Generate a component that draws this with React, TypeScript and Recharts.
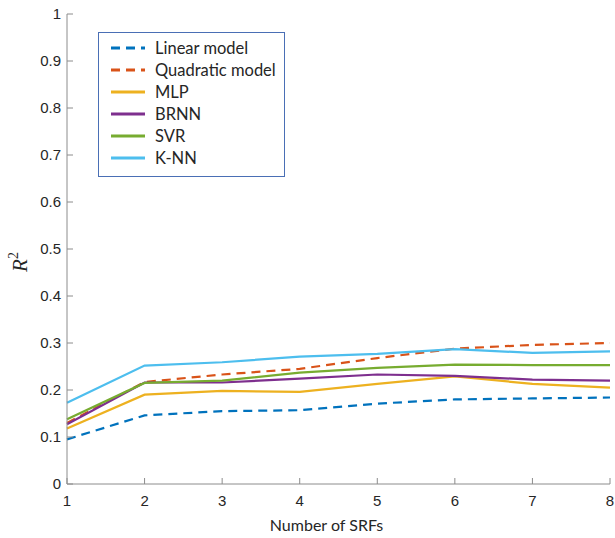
import React from 'react';
import { LineChart, Line, XAxis, YAxis, Legend } from 'recharts';

const srfs = [1, 2, 3, 4, 5, 6, 7, 8];
const linearModel = [0.095, 0.146, 0.155, 0.157, 0.171, 0.18, 0.182, 0.184];
const quadraticModel = [0.13, 0.217, 0.233, 0.245, 0.268, 0.288, 0.296, 0.3];
const mlp = [0.118, 0.19, 0.198, 0.196, 0.213, 0.229, 0.213, 0.205];
const brnn = [0.127, 0.216, 0.216, 0.224, 0.233, 0.23, 0.222, 0.22];
const svr = [0.138, 0.215, 0.22, 0.237, 0.247, 0.254, 0.253, 0.253];
const knn = [0.173, 0.252, 0.259, 0.271, 0.277, 0.287, 0.279, 0.282];

const xTicks = [1, 2, 3, 4, 5, 6, 7, 8];
const yTicks = [0, 0.1, 0.2, 0.3, 0.4, 0.5, 0.6, 0.7, 0.8, 0.9, 1];

const SERIES = [
  { key: 'linear', name: 'Linear model', color: '#0072BD', dashed: true },
  { key: 'quadratic', name: 'Quadratic model', color: '#D95319', dashed: true },
  { key: 'mlp', name: 'MLP', color: '#EDB120', dashed: false },
  { key: 'brnn', name: 'BRNN', color: '#7E2F8E', dashed: false },
  { key: 'svr', name: 'SVR', color: '#77AC30', dashed: false },
  { key: 'knn', name: 'K-NN', color: '#4DBEEE', dashed: false },
];

const data = srfs.map((n, i) => ({
  n,
  linear: linearModel[i],
  quadratic: quadraticModel[i],
  mlp: mlp[i],
  brnn: brnn[i],
  svr: svr[i],
  knn: knn[i],
}));

const AXIS = '#8c8c8c';
const TEXT = '#262626';
const TICK = 6;
const MARGIN = 4;

// inward ticks, MATLAB style
const BottomTick = (props: any) => {
  const { x, y, payload } = props;
  const ay = y - MARGIN;
  return (
    <g>
      <line x1={x} x2={x} y1={ay} y2={ay - TICK} stroke={AXIS} />
      <text x={x} y={ay + 9} dy="0.85em" textAnchor="middle" fill={TEXT} fontSize={15}>
        {payload.value}
      </text>
    </g>
  );
};
const TopTick = (props: any) => {
  const { x, y } = props;
  const ay = y + MARGIN;
  return <line x1={x} x2={x} y1={ay} y2={ay + TICK} stroke={AXIS} />;
};
const LeftTick = (props: any) => {
  const { x, y, payload } = props;
  const ax = x + MARGIN;
  return (
    <g>
      <line x1={ax} x2={ax + TICK} y1={y} y2={y} stroke={AXIS} />
      <text x={ax - 6} y={y} dy="0.35em" textAnchor="end" fill={TEXT} fontSize={15}>
        {payload.value}
      </text>
    </g>
  );
};
const RightTick = (props: any) => {
  const { x, y } = props;
  const ax = x - MARGIN;
  return <line x1={ax} x2={ax - TICK} y1={y} y2={y} stroke={AXIS} />;
};

const XTitle = (props: any) => {
  const { viewBox } = props;
  const cx = viewBox.x + viewBox.width / 2 - 12;
  return (
    <text x={cx} y={531} textAnchor="middle" fill={TEXT} fontSize={16} fontFamily="Lato, sans-serif">
      Number of SRFs
    </text>
  );
};

const LegendBox = () => (
  <div
    style={{
      border: '1px solid #4a6fb5',
      background: '#fff',
      width: 185,
      padding: '4px 0 7px 0',
      fontFamily: 'Lato, sans-serif',
      fontSize: 16.5,
      color: TEXT,
    }}
  >
    {SERIES.map(s => (
      <div key={s.key} style={{ display: 'flex', alignItems: 'center', height: 22 }}>
        <svg width={56} height={10}>
          <line
            x1={12}
            x2={46}
            y1={5}
            y2={5}
            stroke={s.color}
            strokeWidth={3}
            strokeDasharray={s.dashed ? '9 6' : undefined}
          />
        </svg>
        <span>{s.name}</span>
      </div>
    ))}
  </div>
);

export default function App() {
  return (
    <div style={{ position: 'absolute', left: 0, top: 0, width: 615, height: 538, background: '#fff', fontFamily: '"Liberation Sans", Arial, sans-serif' }}>
      <LineChart width={615} height={538} data={data} margin={{ top: 14, right: 5, left: 37, bottom: 24 }}>
        <XAxis
          dataKey="n"
          type="number"
          domain={[1, 8]}
          ticks={xTicks}
          xAxisId="b"
          height={30}
          stroke={AXIS}
          tickLine={false}
          tickSize={0}
          tickMargin={MARGIN}
          tick={<BottomTick />}
          interval={0}
          label={<XTitle />}
        />
        <XAxis
          dataKey="n"
          type="number"
          domain={[1, 8]}
          ticks={xTicks}
          xAxisId="t"
          orientation="top"
          height={0}
          stroke={AXIS}
          tickLine={false}
          tickSize={0}
          tickMargin={MARGIN}
          tick={<TopTick />}
          interval={0}
        />
        <YAxis
          yAxisId="l"
          type="number"
          domain={[0, 1]}
          ticks={yTicks}
          width={30}
          stroke={AXIS}
          tickLine={false}
          tickSize={0}
          tickMargin={MARGIN}
          tick={<LeftTick />}
          interval={0}
        />
        <YAxis
          yAxisId="r"
          orientation="right"
          type="number"
          domain={[0, 1]}
          ticks={yTicks}
          width={0}
          stroke={AXIS}
          tickLine={false}
          tickSize={0}
          tickMargin={MARGIN}
          tick={<RightTick />}
          interval={0}
        />
        <Legend
          layout="vertical"
          align="center"
          verticalAlign="middle"
          content={<LegendBox />}
          wrapperStyle={{ position: 'absolute', left: 98, top: 32, width: 'auto' }}
        />
        {SERIES.map(s => (
          <Line
            key={s.key}
            xAxisId="b"
            yAxisId="l"
            dataKey={s.key}
            name={s.name}
            stroke={s.color}
            strokeWidth={2.2}
            strokeDasharray={s.dashed ? '9 6' : undefined}
            dot={false}
            type="linear"
            isAnimationActive={false}
          />
        ))}
        <text x={27} y={262} transform="rotate(-90 27 262)" textAnchor="middle" fill={TEXT} fontSize={21} fontFamily='"Liberation Serif", serif'>
          <tspan fontStyle="italic">R</tspan>
          <tspan fontSize={14} dy={-9}>2</tspan>
        </text>
      </LineChart>
    </div>
  );
}
